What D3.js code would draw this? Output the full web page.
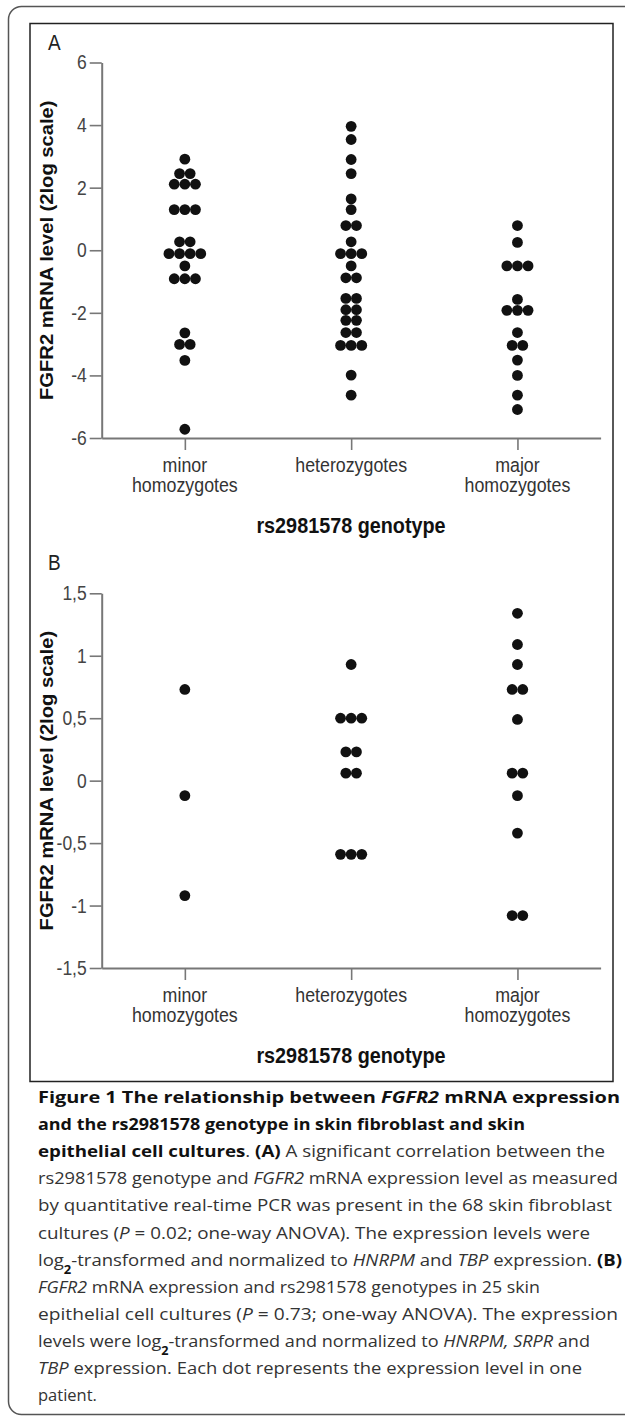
<!DOCTYPE html>
<html lang="en">
<head>
  <meta charset="UTF-8">
  <title>FGFR2 mRNA expression by rs2981578 genotype</title>
  <style>
    html, body { margin: 0; padding: 0; background: #fff; }
    svg { display: block; }
  </style>
</head>
<body>
<div class="figure"></div>
<script src="https://cdn.jsdelivr.net/npm/d3@7"></script>
<script>
  // categories
  const genotypes = ["minor homozygotes", "heterozygotes", "major homozygotes"];
  const genotypeLines = [["minor", "homozygotes"], ["heterozygotes"], ["major", "homozygotes"]];

  // panel A: skin fibroblasts (log2 expression), one value per dot
  const minorA = [2.91, 2.45, 2.45, 2.11, 2.11, 2.11, 1.30, 1.30, 1.30, 0.27, 0.27,
    -0.11, -0.11, -0.11, -0.11, -0.50, -0.91, -0.91, -0.91, -2.64, -3.01, -3.01, -3.52, -5.72];
  const hetA = [3.96, 3.54, 2.90, 2.45, 1.64, 1.30, 0.79, 0.79, 0.27, -0.11, -0.11, -0.11,
    -0.50, -0.88, -0.88, -1.54, -1.54, -1.90, -1.90, -2.24, -2.24, -2.63, -2.63,
    -3.04, -3.04, -3.04, -3.99, -4.63];
  const majorA = [0.79, 0.25, -0.50, -0.50, -0.50, -1.57, -1.92, -1.92, -1.92, -2.63,
    -3.04, -3.04, -3.51, -4.00, -4.63, -5.09];
  const ticksA = [-6, -4, -2, 0, 2, 4, 6];

  // panel B: skin epithelial cells
  const minorB = [0.73, -0.12, -0.92];
  const hetB = [0.93, 0.50, 0.50, 0.50, 0.23, 0.23, 0.06, 0.06, -0.59, -0.59, -0.59];
  const majorB = [1.34, 1.09, 0.93, 0.73, 0.73, 0.49, 0.06, 0.06, -0.12, -0.42, -1.08, -1.08];
  const ticksB = [-1.5, -1, -0.5, 0, 0.5, 1, 1.5];

  const yTitle = "FGFR2 mRNA level (2log scale)";
  const xTitle = "rs2981578 genotype";

  const width = 625, height = 1419;
  const chartFont = "'Liberation Sans', Arial, sans-serif";
  const stretch = "scale(1,1.15)"; // the original lettering is a bit tall and narrow

  const svg = d3.select(".figure").append("svg")
    .attr("width", width)
    .attr("height", height);

  // frames
  svg.append("rect")
    .attr("x", 8.5).attr("y", 6.5)
    .attr("width", 660).attr("height", 1408)
    .attr("rx", 13)
    .attr("fill", "none").attr("stroke", "#555").attr("stroke-width", 1.5);

  svg.append("rect")
    .attr("x", 30).attr("y", 23.5)
    .attr("width", 583).attr("height", 1058)
    .attr("fill", "none").attr("stroke", "#222").attr("stroke-width", 1.5);

  function decimalComma(d) {
    return String(d).replace(".", ",");
  }

  function drawPanel(opts) {
    const x = d3.scalePoint()
      .domain(genotypes)
      .range([101.7, 600.6])
      .padding(0.5);

    const y = d3.scaleLinear()
      .domain(opts.domain)
      .range([opts.bottom, opts.top]);

    const g = svg.append("g").attr("font-family", chartFont);

    // panel letter
    g.append("text")
      .attr("transform", `translate(48,${opts.letterY}) ${stretch}`)
      .attr("font-size", 19)
      .attr("fill", "#222")
      .text(opts.letter);

    // y axis
    const yAxis = d3.axisLeft(y)
      .tickValues(opts.ticks)
      .tickSize(12)
      .tickSizeOuter(0)
      .tickPadding(3)
      .tickFormat(opts.format);

    const yg = g.append("g")
      .attr("transform", "translate(101.7,0)")
      .call(yAxis)
      .attr("font-family", null)
      .attr("font-size", null);
    yg.select(".domain").attr("stroke", "#777").attr("stroke-width", 2);
    yg.selectAll(".tick line").attr("stroke", "#777").attr("stroke-width", 1.6);
    yg.selectAll(".tick text")
      .attr("font-size", 17.5)
      .attr("fill", "#444")
      .attr("transform", stretch);

    // x axis
    const xAxis = d3.axisBottom(x)
      .tickSize(12)
      .tickSizeOuter(0)
      .tickFormat("");

    const xg = g.append("g")
      .attr("transform", `translate(0,${opts.bottom})`)
      .call(xAxis)
      .attr("font-family", null)
      .attr("font-size", null);
    xg.select(".domain").attr("stroke", "#777").attr("stroke-width", 2);
    xg.selectAll(".tick line").attr("stroke", "#777").attr("stroke-width", 1.6);
    xg.selectAll(".tick text").remove();

    genotypes.forEach((cat, i) => {
      const t = g.append("text")
        .attr("transform", `translate(${x(cat)},${opts.bottom + 34}) ${stretch}`)
        .attr("text-anchor", "middle")
        .attr("font-size", 17.8)
        .attr("fill", "#333");
      genotypeLines[i].forEach((line, j) => {
        t.append("tspan")
          .attr("x", 0)
          .attr("dy", j === 0 ? 0 : 17.4)
          .text(line);
      });
    });

    // axis titles
    g.append("text")
      .attr("transform", `translate(351,${opts.bottom + 95}) scale(1,1.1)`)
      .attr("text-anchor", "middle")
      .attr("font-size", 19.8)
      .attr("font-weight", "bold")
      .attr("fill", "#111")
      .text(xTitle);

    g.append("text")
      .attr("transform", `translate(53,${(opts.top + opts.bottom) / 2}) rotate(-90) scale(1.12,1)`)
      .attr("text-anchor", "middle")
      .attr("font-size", 18)
      .attr("font-weight", "bold")
      .attr("fill", "#111")
      .text(yTitle);

    // dots: equal values sit side by side in one row
    const gap = 10.6;
    opts.series.forEach((values, i) => {
      const rows = d3.group(values, v => v);
      const dots = [];
      rows.forEach((vals, v) => {
        vals.forEach((val, k) => {
          dots.push({ cat: genotypes[i], value: v, k: k, n: vals.length });
        });
      });
      g.append("g")
        .selectAll("circle")
        .data(dots)
        .enter()
        .append("circle")
        .attr("cx", d => x(d.cat) + (d.k - (d.n - 1) / 2) * gap)
        .attr("cy", d => y(d.value))
        .attr("r", 5.4)
        .attr("fill", "#111");
    });
  }

  drawPanel({
    letter: "A",
    letterY: 49.5,
    domain: [-6, 6],
    top: 62.5,
    bottom: 438,
    ticks: ticksA,
    format: d => String(d),
    series: [minorA, hetA, majorA]
  });

  drawPanel({
    letter: "B",
    letterY: 569.5,
    domain: [-1.5, 1.5],
    top: 593.3,
    bottom: 968,
    ticks: ticksB,
    format: decimalComma,
    series: [minorB, hetB, majorB]
  });

  /**
   * Caption
   */
  const captionLines = [
    [["Figure 1 The relationship between ", "b"], ["FGFR2", "bi"], [" mRNA expression", "b"]],
    [["and the rs2981578 genotype in skin fibroblast and skin", "b"]],
    [["epithelial cell cultures", "b"], [". ", ""], ["(A)", "b"], [" A significant correlation between the", ""]],
    [["rs2981578 genotype and ", ""], ["FGFR2", "i"], [" mRNA expression level as measured", ""]],
    [["by quantitative real-time PCR was present in the 68 skin fibroblast", ""]],
    [["cultures (", ""], ["P", "i"], [" = 0.02; one-way ANOVA). The expression levels were", ""]],
    [["log", ""], ["2", "sub"], ["-transformed and normalized to ", ""], ["HNRPM", "i"], [" and ", ""], ["TBP", "i"], [" expression. ", ""], ["(B)", "b"]],
    [["FGFR2", "i"], [" mRNA expression and rs2981578 genotypes in 25 skin", ""]],
    [["epithelial cell cultures (", ""], ["P", "i"], [" = 0.73; one-way ANOVA). The expression", ""]],
    [["levels were log", ""], ["2", "sub"], ["-transformed and normalized to ", ""], ["HNRPM, SRPR", "i"], [" and", ""]],
    [["TBP", "i"], [" expression. Each dot represents the expression level in one", ""]],
    [["patient.", ""]]
  ];
  const lineEnds = [620, 525, 605, 618, 612, 590, 622, 540, 618, 590, 582, null];

  const captionLeft = 38, captionTop = 1103, captionStep = 27.1;
  const cap = svg.append("g")
    .attr("font-family", "'Open Sans', 'Noto Sans', sans-serif")
    .attr("font-size", 16.5)
    .attr("fill", "#333");

  captionLines.forEach((parts, i) => {
    const t = cap.append("text")
      .attr("x", captionLeft)
      .attr("y", captionTop + i * captionStep);
    parts.forEach(([str, style]) => {
      const s = t.append("tspan").text(str);
      if (style.includes("b")) s.attr("font-weight", "bold").attr("fill", "#111");
      if (style.includes("i")) s.attr("font-style", "italic");
      if (style === "sub") s.attr("font-size", "70%").attr("baseline-shift", "sub");
    });
    if (lineEnds[i]) {
      t.attr("textLength", lineEnds[i] - captionLeft)
        .attr("lengthAdjust", "spacingAndGlyphs");
    }
  });
</script>
</body>
</html>
